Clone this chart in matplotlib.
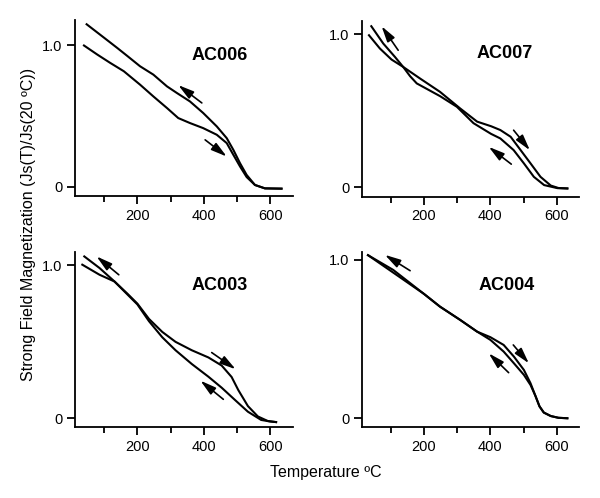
import matplotlib
matplotlib.use("Agg")
import matplotlib.pyplot as plt
from matplotlib.ticker import FixedLocator

plt.rcParams["font.family"] = ["Liberation Sans", "DejaVu Sans"]

# --- data: temperature (C) vs Js(T)/Js(20C) --------------------------------
SAMPLES = ["AC006", "AC007", "AC003", "AC004"]

AC006_HEAT_T = [39, 79, 118, 159, 208, 248, 289, 323, 358, 398, 439, 469, 489, 509, 529, 554, 584, 634]
AC006_HEAT_M = [1.0, 0.936, 0.877, 0.818, 0.723, 0.64, 0.558, 0.487, 0.452, 0.416, 0.369, 0.31, 0.227,
                0.145, 0.07, 0.014, -0.01, -0.012]
AC006_COOL_T = [47, 100, 139, 170, 208, 248, 289, 319, 358, 398, 439, 469, 489, 509, 529, 554, 584, 634]
AC006_COOL_M = [1.15, 1.054, 0.983, 0.925, 0.853, 0.794, 0.711, 0.664, 0.605, 0.523, 0.428, 0.345, 0.262,
                0.168, 0.085, 0.014, -0.01, -0.012]

AC007_HEAT_T = [34, 67, 102, 137, 188, 248, 309, 360, 402, 430, 461, 491, 521, 551, 582, 605, 632]
AC007_HEAT_M = [0.995, 0.908, 0.836, 0.788, 0.712, 0.625, 0.516, 0.43, 0.40, 0.375, 0.331, 0.244, 0.157,
                0.069, 0.012, -0.004, -0.007]
AC007_COOL_T = [41, 77, 112, 137, 158, 178, 248, 299, 349, 402, 430, 470, 501, 531, 562, 602, 632]
AC007_COOL_M = [1.054, 0.941, 0.854, 0.788, 0.727, 0.68, 0.597, 0.527, 0.42, 0.35, 0.32, 0.244, 0.157,
                0.069, 0.015, -0.005, -0.007]

AC003_HEAT_T = [34, 86, 131, 170, 200, 235, 275, 315, 364, 414, 454, 484, 504, 533, 563, 593, 618]
AC003_HEAT_M = [1.005, 0.939, 0.895, 0.815, 0.75, 0.65, 0.565, 0.50, 0.445, 0.398, 0.345, 0.27, 0.185,
                0.08, 0.012, -0.018, -0.025]
AC003_COOL_T = [40, 86, 131, 170, 200, 235, 275, 315, 364, 414, 454, 494, 533, 573, 600, 618]
AC003_COOL_M = [1.059, 0.983, 0.895, 0.81, 0.745, 0.635, 0.53, 0.445, 0.355, 0.272, 0.2, 0.12, 0.043,
                -0.011, -0.021, -0.025]

AC004_HEAT_T = [31, 107, 200, 248, 309, 360, 400, 440, 471, 501, 521, 536, 548, 561, 582, 605, 632]
AC004_HEAT_M = [1.03, 0.92, 0.785, 0.705, 0.621, 0.547, 0.512, 0.463, 0.389, 0.305, 0.221, 0.14, 0.075,
                0.036, 0.014, 0.003, 0.0]
AC004_COOL_T = [31, 107, 200, 248, 309, 360, 400, 440, 471, 501, 521, 536, 548, 561, 582, 605, 632]
AC004_COOL_M = [1.03, 0.937, 0.785, 0.705, 0.621, 0.547, 0.495, 0.421, 0.347, 0.274, 0.21, 0.14, 0.075,
                0.036, 0.014, 0.003, 0.0]

CURVES = {
    "AC006": [(AC006_HEAT_T, AC006_HEAT_M), (AC006_COOL_T, AC006_COOL_M)],
    "AC007": [(AC007_HEAT_T, AC007_HEAT_M), (AC007_COOL_T, AC007_COOL_M)],
    "AC003": [(AC003_HEAT_T, AC003_HEAT_M), (AC003_COOL_T, AC003_COOL_M)],
    "AC004": [(AC004_HEAT_T, AC004_HEAT_M), (AC004_COOL_T, AC004_COOL_M)],
}

# direction arrows: (tail T, tail M, head T, head M)
ARROWS = {
    "AC006": [(394, 0.594, 323, 0.72), (404, 0.333, 469, 0.215)],
    "AC007": [(122, 0.897, 72, 1.054), (470, 0.374, 519, 0.243), (463, 0.152, 395, 0.265)],
    "AC003": [(144, 0.939, 77, 1.059), (424, 0.43, 496, 0.321), (459, 0.124, 390, 0.246)],
    "AC004": [(158, 0.932, 82, 1.032), (469, 0.463, 516, 0.347), (455, 0.288, 395, 0.41)],
}

# --- layout (figure fractions) and per-panel limits -------------------------
AX_RECT = {
    "AC006": [0.125, 0.6064, 0.363, 0.3534],
    "AC007": [0.6028, 0.605, 0.3627, 0.3534],
    "AC003": [0.125, 0.142, 0.3628, 0.3526],
    "AC004": [0.6028, 0.142, 0.3627, 0.3526],
}
YLIM = {
    "AC006": (-0.064, 1.18),
    "AC007": (-0.061, 1.09),
    "AC003": (-0.059, 1.09),
    "AC004": (-0.057, 1.052),
}
TITLE_POS = {
    "AC006": (0.665, 0.80),
    "AC007": (0.659, 0.815),
    "AC003": (0.665, 0.81),
    "AC004": (0.666, 0.805),
}

fig = plt.figure(figsize=(6.0, 4.98), dpi=100)

for name in SAMPLES:
    ax = fig.add_axes(AX_RECT[name])
    for t, m in CURVES[name]:
        ax.plot(t, m, color="black", lw=1.5, solid_joinstyle="round")
    for t0, m0, t1, m1 in ARROWS[name]:
        ax.annotate("", xy=(t1, m1), xytext=(t0, m0),
                    arrowprops=dict(arrowstyle="-|>,head_length=0.95,head_width=0.26",
                                    color="black", lw=1.2, shrinkA=0, shrinkB=0))
    ax.text(*TITLE_POS[name], name, transform=ax.transAxes, ha="center",
            va="center", fontsize=13, fontweight="bold")

    ax.set_xlim(12, 668)
    ax.set_ylim(*YLIM[name])
    ax.spines["top"].set_visible(False)
    ax.spines["right"].set_visible(False)
    for sp in ("left", "bottom"):
        ax.spines[sp].set_linewidth(1.3)
    ax.set_xticks([200, 400, 600])
    ax.xaxis.set_minor_locator(FixedLocator([100, 300, 500]))
    ax.set_yticks([0, 1.0])
    ax.set_yticklabels(["0", "1.0"])
    ax.tick_params(which="major", direction="out", length=6, width=1.3,
                   labelsize=10.5, pad=3)
    ax.tick_params(which="minor", direction="out", length=4, width=1.3)
    ax.tick_params(axis="y", which="minor", left=False)

fig.text(0.047, 0.55, "Strong Field Magnetization (Js(T)/Js(20 ºC))",
         rotation=90, ha="center", va="center", fontsize=11.5)
fig.text(0.543, 0.051, "Temperature ºC", ha="center", va="center", fontsize=11.5)

fig.savefig("out.png", dpi=100)
